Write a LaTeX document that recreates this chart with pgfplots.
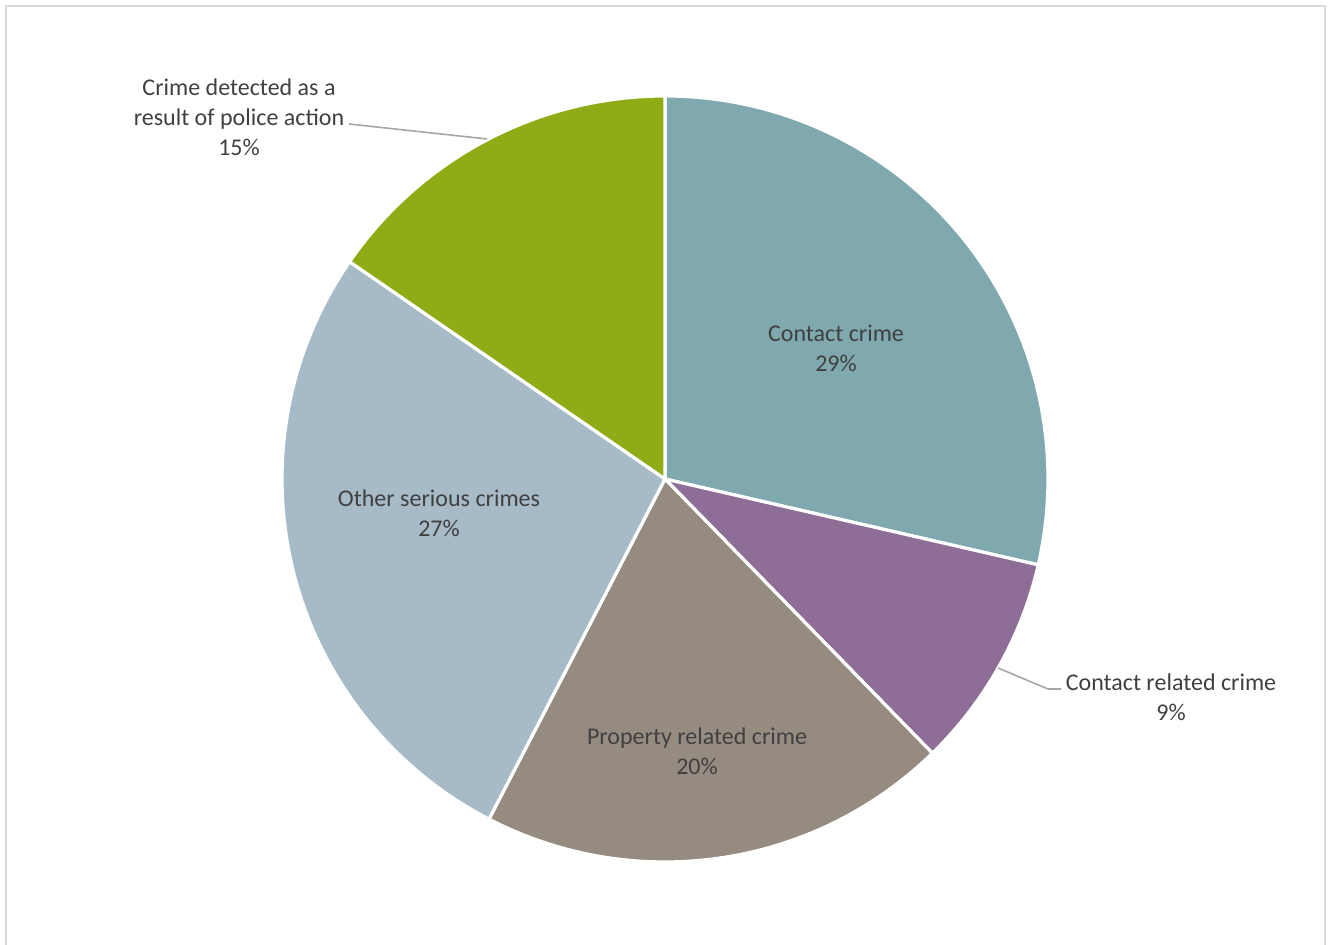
\documentclass[border=0pt]{standalone}
\usepackage{pgfplots}
\usepackage{pgfplotstable}
\pgfplotsset{compat=1.18}
\usepackage{fontspec}
\setmainfont{Carlito}
\definecolor{slice0}{HTML}{7FA9AE}
\definecolor{slice1}{HTML}{8E6E96}
\definecolor{slice2}{HTML}{968B80}
\definecolor{slice3}{HTML}{A6BAC7}
\definecolor{slice4}{HTML}{8FAC17}
\definecolor{txt}{HTML}{404040}
\definecolor{lead}{HTML}{A6A6A6}
\definecolor{frame}{HTML}{D9D9D9}

% share of each slice (percent), clockwise from 12 o'clock
\pgfplotstableread{
value
28.6
9.1
19.9
27.0
15.4
}\piedata

\begin{document}
\begin{tikzpicture}
\pgfplotstablegetrowsof{\piedata}%
\pgfmathtruncatemacro\nrows{\pgfplotsretval-1}%
\gdef\curang{90}%
\foreach \i in {0,...,\nrows}{%
  \pgfplotstablegetelem{\i}{value}\of\piedata
  \pgfmathsetmacro\endang{\curang-3.6*\pgfplotsretval}%
  \expandafter\xdef\csname sliceS\i\endcsname{\curang}%
  \expandafter\xdef\csname sliceE\i\endcsname{\endang}%
  \global\let\curang\endang
}%
\begin{axis}[
  x=0.5pt, y=0.5pt,
  xmin=0, xmax=1330, ymin=0, ymax=945,
  hide axis, enlargelimits=false,
  clip=true,
]
% chart frame
\draw[frame, line width=0.9pt] (axis cs:6,-20) -- (axis cs:6,939) -- (axis cs:1325,939) -- (axis cs:1325,-20);
% slices
\pgfplotsinvokeforeach{0,...,4}{
  \fill[fill=slice#1, draw=white, line width=1.6pt, line join=round]
    (axis cs:665,466) -- ++(\csname sliceS#1\endcsname:191.5pt)
    arc[start angle=\csname sliceS#1\endcsname, end angle=\csname sliceE#1\endcsname, radius=191.5pt] -- cycle;
}
% leader lines
\draw[lead, line width=0.8pt] (axis cs:349,821) -- (axis cs:487,806);
\draw[lead, line width=0.8pt] (axis cs:998,277) -- (axis cs:1048,256) -- (axis cs:1061,256);
% labels
\tikzset{lbl/.style={text=txt, align=center, font=\fontsize{12}{15}\selectfont, inner sep=0pt}}
\node[lbl] at (axis cs:836,597) {Contact crime\\29\%};
\node[lbl] at (axis cs:1171,248) {Contact related crime\\9\%};
\node[lbl] at (axis cs:697,194) {Property related crime\\20\%};
\node[lbl] at (axis cs:439,432) {Other serious crimes\\27\%};
\node[lbl] at (axis cs:239,828) {Crime detected as a\\result of police action\\15\%};
\end{axis}
\pgfresetboundingbox
\useasboundingbox (current axis.south west) rectangle (current axis.north east);
\end{tikzpicture}
\end{document}
